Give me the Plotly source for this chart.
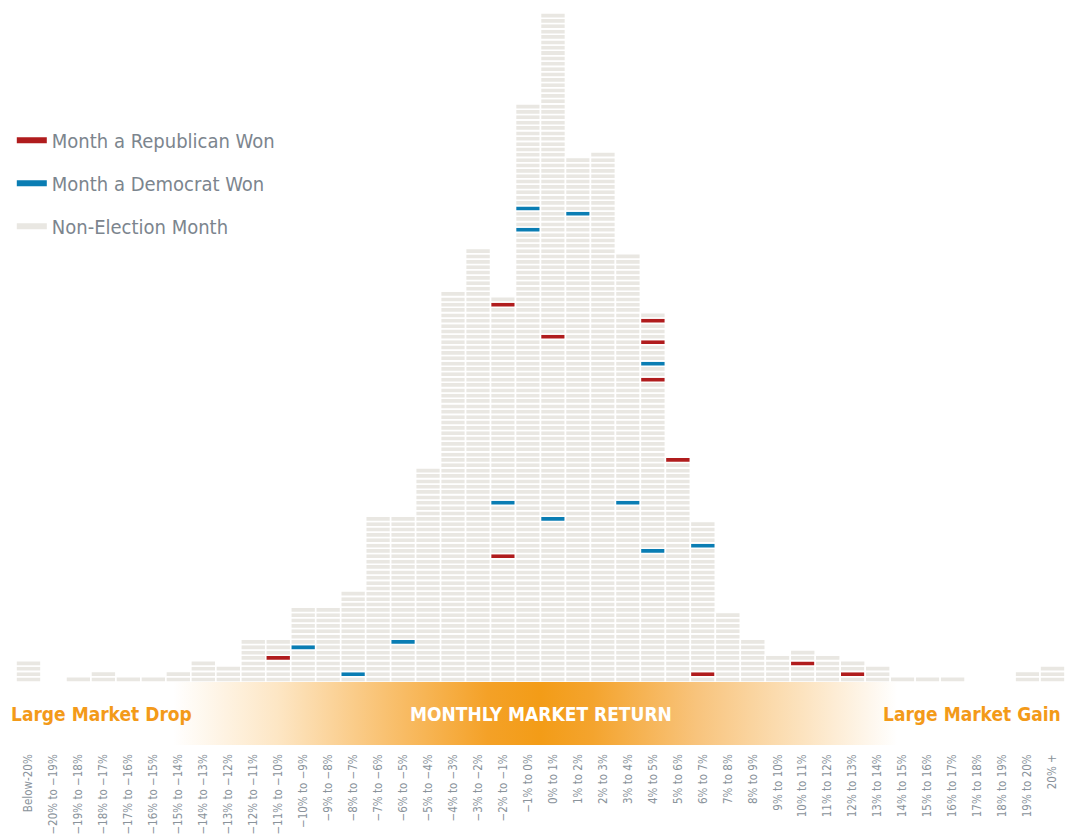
import plotly.graph_objects as go

# ---------------- data ----------------
categories = [
    "Below-20%", "−20% to −19%", "−19% to −18%", "−18% to −17%", "−17% to −16%",
    "−16% to −15%", "−15% to −14%", "−14% to −13%", "−13% to −12%", "−12% to −11%",
    "−11% to −10%", "−10% to −9%", "−9% to −8%", "−8% to −7%", "−7% to −6%",
    "−6% to −5%", "−5% to −4%", "−4% to −3%", "−3% to −2%", "−2% to −1%",
    "−1% to 0%", "0% to 1%", "1% to 2%", "2% to 3%", "3% to 4%", "4% to 5%",
    "5% to 6%", "6% to 7%", "7% to 8%", "8% to 9%", "9% to 10%", "10% to 11%",
    "11% to 12%", "12% to 13%", "13% to 14%", "14% to 15%", "15% to 16%",
    "16% to 17%", "17% to 18%", "18% to 19%", "19% to 20%", "20% +",
]
# number of months in each return bucket
month_counts = [4, 0, 1, 2, 1, 1, 2, 4, 3, 8, 8, 14, 14, 17, 31, 31, 40, 73, 81, 72,
                108, 125, 98, 99, 80, 69, 42, 30, 13, 8, 5, 6, 5, 4, 3, 1, 1, 1, 0, 0, 2, 3]

# election months: bucket label and position of the month within the bucket's stack
republican_bucket = ["−11% to −10%", "−2% to −1%", "−2% to −1%", "0% to 1%", "4% to 5%",
                     "4% to 5%", "4% to 5%", "5% to 6%", "6% to 7%", "10% to 11%", "12% to 13%"]
republican_slot = [5, 24, 71, 65, 57, 64, 68, 42, 2, 4, 2]
democrat_bucket = ["−10% to −9%", "−8% to −7%", "−6% to −5%", "−2% to −1%", "−1% to 0%",
                   "−1% to 0%", "0% to 1%", "1% to 2%", "3% to 4%", "4% to 5%",
                   "4% to 5%", "6% to 7%"]
democrat_slot = [7, 2, 8, 34, 85, 89, 31, 88, 34, 25, 60, 26]

legend_labels = ["Month a Republican Won", "Month a Democrat Won", "Non-Election Month"]

# ---------------- styles ----------------
GREY = "#e9e7e2"
RED = "#b01c1d"
BLUE = "#0a7db3"
TEXT = "#7c858e"
ORANGE = "#f39a19"
FONT = "Liberation Sans Narrow, DejaVu Sans Condensed, Arial Narrow, Roboto, sans-serif"

rep_set = {(categories.index(b), s) for b, s in zip(republican_bucket, republican_slot)}
dem_set = {(categories.index(b), s) for b, s in zip(democrat_bucket, democrat_slot)}

xs, bases, ones, colors = [], [], [], []
for i, n in enumerate(month_counts):
    for k in range(1, n + 1):
        xs.append(i)
        bases.append(k - 1)
        ones.append(1)
        if (i, k) in rep_set:
            colors.append(RED)
        elif (i, k) in dem_set:
            colors.append(BLUE)
        else:
            colors.append(GREY)

fig = go.Figure()

fig.add_trace(go.Bar(
    x=xs, y=ones, base=bases, width=1.0,
    marker=dict(color=colors, line=dict(color="white", width=1.6)),
    showlegend=False, hoverinfo="skip",
))

# legend entries
for name, col in zip(legend_labels, [RED, BLUE, GREY]):
    fig.add_trace(go.Scatter(
        x=[None], y=[None], mode="lines", name=name,
        line=dict(color=col, width=6), legendgroup=name,
    ))

# gradient band
n = len(categories)
band_scale = [
    [0.0, "#ffffff"], [0.15, "#ffffff"], [0.25, "#fde6c4"], [0.35, "#f9c273"],
    [0.45, "#f4a127"], [0.50, "#f39c17"], [0.55, "#f4a42e"], [0.65, "#f8c47d"],
    [0.75, "#fce3bf"], [0.84, "#ffffff"], [1.0, "#ffffff"],
]
fig.add_trace(go.Scatter(
    x=[-0.5, n - 0.5, n - 0.5, -0.5, -0.5], y=[0, 0, 1, 1, 0],
    fill="toself", mode="none", xaxis="x", yaxis="y2",
    fillgradient=dict(type="horizontal", colorscale=band_scale),
    showlegend=False, hoverinfo="skip",
))

BAND_TOP = 0.0845

fig.update_layout(
    width=1065, height=838,
    margin=dict(l=16, r=0, t=0, b=93, autoexpand=False),
    paper_bgcolor="white", plot_bgcolor="white",
    barmode="overlay",
    font=dict(family=FONT, color=TEXT),
    xaxis=dict(
        range=[-0.5, n - 0.5], tickmode="array", tickvals=list(range(n)),
        ticktext=categories, tickangle=-90, anchor="free", position=0,
        showgrid=False, zeroline=False, showline=False, ticks="",
        automargin=False,
        ticklabelstandoff=6, tickfont=dict(size=11.5, color="#8a939b", family=FONT),
    ),
    yaxis=dict(domain=[BAND_TOP, 1], range=[0, 127.4], visible=False, fixedrange=True,
               automargin=False),
    yaxis2=dict(domain=[0, BAND_TOP], range=[0, 1], visible=False, anchor="x",
                automargin=False),
    legend=dict(
        x=-0.004, y=0.838, xanchor="left", yanchor="top",
        font=dict(size=20, color=TEXT, family=FONT),
        tracegroupgap=14, itemwidth=30, bgcolor="rgba(0,0,0,0)",
    ),
    annotations=[
        dict(text="<b>Large Market Drop</b>", x=0, xref="paper", xanchor="left", xshift=-7,
             y=0.5, yref="y2", yanchor="middle", showarrow=False,
             font=dict(size=19, color=ORANGE, family=FONT)),
        dict(text="<b>MONTHLY MARKET RETURN</b>", x=0.5, xref="paper", xanchor="center",
             y=0.5, yref="y2", yanchor="middle", showarrow=False,
             font=dict(size=19, color="white", family=FONT)),
        dict(text="<b>Large Market Gain</b>", x=1, xref="paper", xanchor="right", xshift=-2,
             y=0.5, yref="y2", yanchor="middle", showarrow=False,
             font=dict(size=19, color=ORANGE, family=FONT)),
    ],
)

fig.write_html("out.html", config={"displayModeBar": False},
               post_script="document.body.style.margin='0';")
